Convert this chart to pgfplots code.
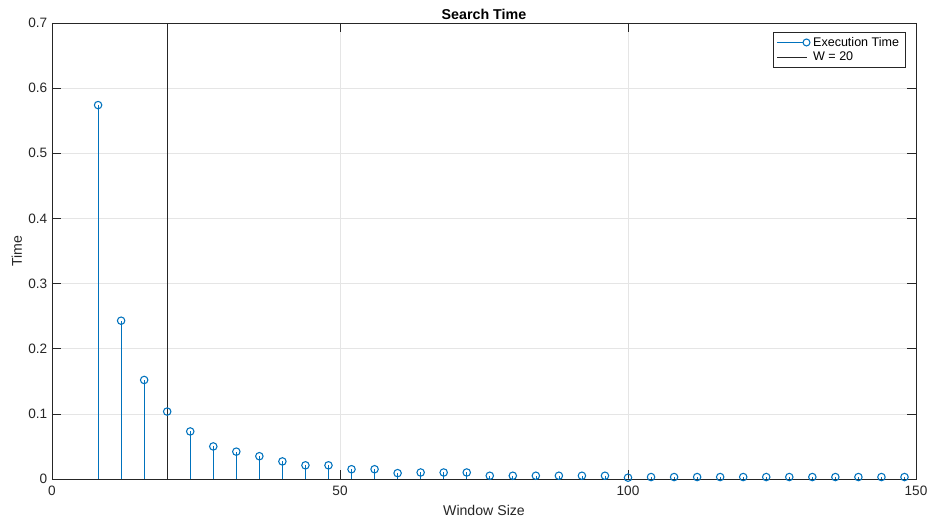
\documentclass[border=0pt]{standalone}
\usepackage{pgfplots}
\pgfplotsset{compat=1.18}
\usepackage{fontspec}
\setmainfont{Liberation Sans}
\definecolor{mblue}{rgb}{0,0.447,0.741}
\definecolor{axgray}{rgb}{0.15,0.15,0.15}
\definecolor{gridgray}{rgb}{0.9,0.9,0.9}
\begin{document}
\begin{tikzpicture}
\useasboundingbox (-39pt,-29.25pt) rectangle (656.25pt,359.25pt);
\begin{axis}[
  scale only axis,
  width=648pt, height=342pt,
  xmin=0, xmax=150, ymin=0, ymax=0.7,
  xtick={0,50,100,150},
  ytick={0,0.1,0.2,0.3,0.4,0.5,0.6,0.7},
  yticklabels={0,0.1,0.2,0.3,0.4,0.5,0.6,0.7},
  /pgf/number format/assume math mode=true,
  tick label style={font=\fontsize{10.2}{12}\selectfont, text=axgray},
  xticklabel style={yshift=-2pt},
  axis line style={axgray, line width=0.45pt},
  major tick style={axgray, line width=0.45pt},
  major tick length=6.5pt,
  tick align=inside,
  grid=major,
  major grid style={gridgray, line width=0.45pt},
  title={\bfseries Search Time},
  title style={font=\fontsize{10.7}{12}\selectfont, yshift=-7pt},
  xlabel={Window Size},
  ylabel={Time},
  label style={font=\fontsize{10.6}{12}\selectfont, text=axgray},
  xlabel style={yshift=0pt},
  ylabel style={yshift=-2pt},
  legend style={at={(1,1)}, anchor=north east, xshift=-7.5pt, yshift=-6.75pt,
    font=\fontsize{9.4}{11}\selectfont, draw=axgray, line width=0.4pt,
    inner xsep=3pt, inner ysep=1.5pt, row sep=-1pt},
  legend cell align=left,
]
\addplot[ycomb, mblue, line width=0.5pt, mark=o,
  mark options={solid, line width=0.8pt, scale=1.4},
  legend image code/.code={
    \draw[mblue, line width=0.5pt] (-0.05cm,0cm) -- (0.72cm,0cm);
    \draw[mblue, line width=0.8pt, fill=white] (0.72cm,0cm) circle (2.6pt);
  }] coordinates {
(8,0.574) (12,0.243) (16,0.152) (20,0.1035) (24,0.073) (28,0.050)
(32,0.042) (36,0.035) (40,0.027) (44,0.021) (48,0.021) (52,0.015)
(56,0.015) (60,0.009) (64,0.010) (68,0.010) (72,0.010) (76,0.005)
(80,0.005) (84,0.005) (88,0.005) (92,0.005) (96,0.005) (100,0.002)
(104,0.003) (108,0.003) (112,0.003) (116,0.003) (120,0.003) (124,0.003)
(128,0.003) (132,0.003) (136,0.003) (140,0.003) (144,0.003) (148,0.003)
};
\addlegendentry{Execution Time}
\addplot[axgray, line width=0.5pt,
  legend image code/.code={\draw[axgray, line width=0.5pt] (-0.05cm,0cm) -- (0.72cm,0cm);}]
  coordinates {(20,0) (20,0.7)};
\addlegendentry{W = 20}
\end{axis}
\end{tikzpicture}
\end{document}
